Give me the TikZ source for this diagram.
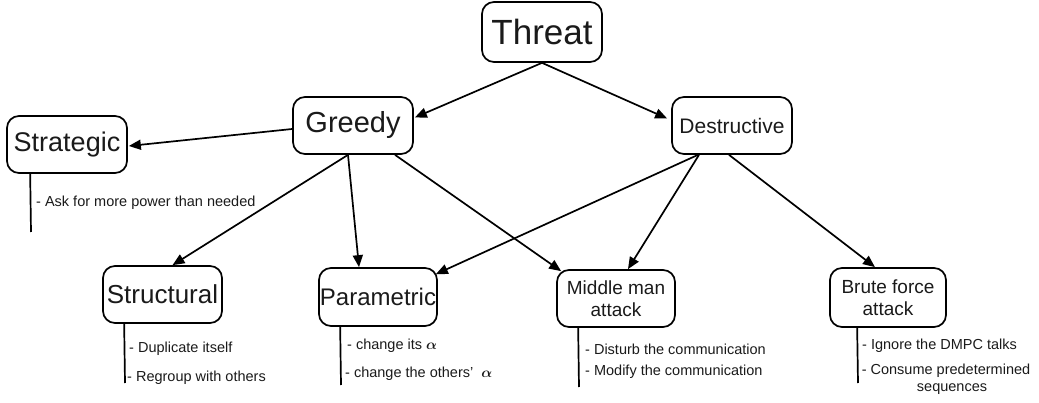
\documentclass[tikz,border=0pt]{standalone}
\usepackage{amsmath}
\usepackage{bm}
\usepackage{fontspec}
\setmainfont{Liberation Sans}
\usetikzlibrary{arrows.meta,calc}
\definecolor{ink}{HTML}{1A1A1A}
\tikzset{
  box/.style={draw=black, line width=1.7pt, rounded corners=12pt, inner sep=0pt, align=center, text=ink},
  arr/.style={line width=1.7pt, -{Triangle[length=12pt,width=10pt]}},
  stem/.style={line width=1.7pt},
  note/.style={anchor=west, inner sep=0pt, text=ink, font=\fontsize{14.5}{16.5}\selectfont},
}
\begin{document}
\begin{tikzpicture}[x=1pt,y=-1pt]
\useasboundingbox (0,0) rectangle (1039,403);
% boxes
\node[box, minimum width=120pt, minimum height=60pt, font=\fontsize{35}{40}\selectfont] (threat) at (542,32) {Threat};
\node[box, minimum width=120pt, minimum height=57pt, font=\fontsize{29}{33}\selectfont] (greedy) at (353,125.5) {Greedy};
\node[box, minimum width=120pt, minimum height=57pt, font=\fontsize{21}{25}\selectfont] (destr) at (732,125.5) {Destructive};
\node[box, minimum width=120pt, minimum height=57pt, font=\fontsize{27}{31}\selectfont] (strat) at (67,144.5) {Strategic};
\node[box, minimum width=119pt, minimum height=57pt, font=\fontsize{26}{30}\selectfont] (struct) at (162.5,294.5) {Structural};
\node[box, minimum width=118pt, minimum height=58pt, font=\fontsize{24}{28}\selectfont] (param) at (378,297) {Parametric};
\node[box, minimum width=118pt, minimum height=57pt, font=\fontsize{19}{22}\selectfont] (middle) at (616,298.5) {Middle man\\attack};
\node[box, minimum width=116pt, minimum height=59pt, font=\fontsize{19}{22}\selectfont] (brute) at (888,297.5) {Brute force\\attack};
% arrows
\draw[arr] (threat.south) -- ($(greedy.east)+(1,-8)$);
\draw[arr] (threat.south) -- ($(destr.west)+(-4,-7)$);
\draw[arr] ($(greedy.west)+(0,3.5)$) -- ($(strat.east)+(1,1.5)$);
\draw[arr] ($(greedy.south)+(-5,0)$) -- ($(struct.north)+(10,0)$);
\draw[arr] ($(greedy.south)+(-5,0)$) -- ($(param.north)+(-19,0)$);
\draw[arr] ($(greedy.south)+(42,0)$) -- ($(middle.north west)+(5,2)$);
\draw[arr] ($(destr.south)+(-34,0)$) -- ($(param.north east)+(-2,7)$);
\draw[arr] ($(destr.south)+(-33,0)$) -- ($(middle.north)+(12,0)$);
\draw[arr] ($(destr.south)+(-3,0)$) -- ($(brute.north)+(-13,0)$);
% stems
\coordinate (sS) at (31,232);
\draw[stem] ($(strat.south west)+(24,0)$) -- (sS);
\node[note] (sS1) at (36,203) {- Ask for more power than needed};
\coordinate (tS) at (125,383);
\draw[stem] ($(struct.south west)+(22,0)$) -- (tS);
\node[note] (tS1) at (129,349) {- Duplicate itself};
\node[note] (tS2) at (127,378) {- Regroup with others};
\coordinate (pS) at (341,385);
\draw[stem] ($(param.south west)+(22,0)$) -- (pS);
\node[note] (pS1) at (347,346) {- change its $\bm{\alpha}$};
\node[note] (pS2) at (345,374) {- change the others'\ \ $\bm{\alpha}$};
\coordinate (mS) at (579,387);
\draw[stem] ($(middle.south west)+(22,0)$) -- (mS);
\node[note] (mS1) at (585,349) {- Disturb the communication};
\node[note] (mS2) at (585,372) {- Modify the communication};
\coordinate (bS) at (858,383);
\draw[stem] ($(brute.south west)+(28,0)$) -- (bS);
\node[note] (bS1) at (862,346) {- Ignore the DMPC talks};
\node[note, anchor=north, align=center] (bS2) at (946,364) {- Consume predetermined\\\hspace*{12pt}sequences};
\end{tikzpicture}
\end{document}
